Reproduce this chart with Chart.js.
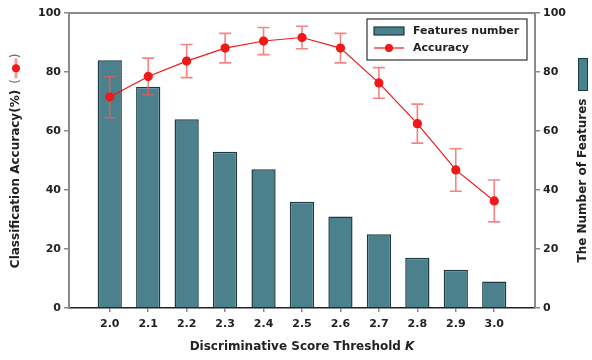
<!DOCTYPE html>
<html lang="en">
<head>
  <meta charset="UTF-8">
  <title>Accuracy vs Threshold</title>
  <style>
    html, body { margin: 0; padding: 0; background: #fff; }
    #wrap { width: 592px; height: 360px; }
  </style>
</head>
<body>
  <div id="wrap"><canvas id="grafico" width="592" height="360"></canvas></div>

  <script src="https://cdn.jsdelivr.net/npm/chart.js"></script>
  <script>
    // dados
    const thresholds = [2.0, 2.1, 2.2, 2.3, 2.4, 2.5, 2.6, 2.7, 2.8, 2.9, 3.0];
    const featuresNumber = [84, 75, 64, 53, 47, 36, 31, 25, 17, 13, 9];
    const accuracy = [71.5, 78.5, 83.7, 88.1, 90.5, 91.7, 88.1, 76.3, 62.5, 46.8, 36.3];
    const accuracyErr = [7, 6.2, 5.6, 5, 4.6, 3.8, 5, 5.2, 6.6, 7.2, 7.1];
    const yTicks = [0, 20, 40, 60, 80, 100];

    const corBarra = '#4b818d';
    const corBorda = '#1b3a42';
    const corLinha = '#f01818';
    const corErro = 'rgba(245, 90, 90, 0.75)';
    const fonte = '"DejaVu Sans", Arial, sans-serif';

    const pontos = (ys) => thresholds.map((x, i) => ({ x: x, y: ys[i] }));

    const errorBars = {
      id: 'errorBars',
      afterDatasetDraw(chart, args) {
        if (args.index !== 0) return;
        const ctx = chart.ctx;
        const xs = chart.scales.x, ys = chart.scales.y;
        ctx.save();
        ctx.strokeStyle = corErro;
        ctx.lineWidth = 1.6;
        thresholds.forEach((t, i) => {
          const px = xs.getPixelForValue(t);
          const top = ys.getPixelForValue(accuracy[i] + accuracyErr[i]);
          const bot = ys.getPixelForValue(accuracy[i] - accuracyErr[i]);
          ctx.beginPath();
          ctx.moveTo(px, top); ctx.lineTo(px, bot);
          ctx.moveTo(px - 6, top); ctx.lineTo(px + 6, top);
          ctx.moveTo(px - 6, bot); ctx.lineTo(px + 6, bot);
          ctx.stroke();
        });
        ctx.restore();
      }
    };

    const extras = {
      id: 'extras',
      afterDraw(chart) {
        const ctx = chart.ctx;
        const a = chart.chartArea;
        ctx.save();

        // moldura superior
        ctx.strokeStyle = '#8a8a8a';
        ctx.lineWidth = 2;
        ctx.beginPath();
        ctx.moveTo(a.left, a.top); ctx.lineTo(a.right, a.top);
        ctx.stroke();

        // legenda
        const lx = 367, ly = 19, lw = 160, lh = 41;
        ctx.fillStyle = '#fff';
        ctx.fillRect(lx, ly, lw, lh);
        ctx.strokeStyle = '#333';
        ctx.lineWidth = 1.2;
        ctx.strokeRect(lx, ly, lw, lh);
        ctx.fillStyle = corBarra;
        ctx.fillRect(lx + 7, ly + 8, 30, 8);
        ctx.strokeStyle = corBorda;
        ctx.strokeRect(lx + 7, ly + 8, 30, 8);
        ctx.strokeStyle = corLinha;
        ctx.lineWidth = 1.2;
        ctx.beginPath();
        ctx.moveTo(lx + 7, ly + 29); ctx.lineTo(lx + 37, ly + 29);
        ctx.stroke();
        ctx.fillStyle = corLinha;
        ctx.beginPath();
        ctx.arc(lx + 22, ly + 29, 4, 0, Math.PI * 2);
        ctx.fill();
        ctx.fillStyle = '#222';
        ctx.font = 'bold 11px ' + fonte;
        ctx.textBaseline = 'middle';
        ctx.textAlign = 'left';
        ctx.fillText(chart.data.datasets[0].label, lx + 46, ly + 12);
        ctx.fillText(chart.data.datasets[1].label, lx + 46, ly + 29);

        // título eixo esquerdo com símbolo
        const cy = (a.top + a.bottom) / 2;
        ctx.font = 'bold 12px ' + fonte;
        const t1 = 'Classification Accuracy(%)';
        const w1 = ctx.measureText(t1).width;
        const wp = ctx.measureText('(').width;
        const sym = 20;
        let total = w1 + 6 + wp + sym + wp;
        ctx.save();
        ctx.translate(16, cy);
        ctx.rotate(-Math.PI / 2);
        let x0 = -total / 2;
        ctx.fillStyle = '#222';
        ctx.fillText(t1, x0, 0);
        x0 += w1 + 6;
        ctx.fillStyle = '#666';
        ctx.font = '12px ' + fonte;
        ctx.fillText('(', x0, 0);
        x0 += wp;
        ctx.strokeStyle = 'rgba(245, 90, 90, 0.6)';
        ctx.lineWidth = 3;
        ctx.beginPath();
        ctx.moveTo(x0, 0); ctx.lineTo(x0 + sym, 0);
        ctx.stroke();
        ctx.fillStyle = corLinha;
        ctx.beginPath();
        ctx.arc(x0 + sym / 2, 0, 4, 0, Math.PI * 2);
        ctx.fill();
        x0 += sym;
        ctx.fillStyle = '#666';
        ctx.fillText(')', x0, 0);
        ctx.restore();

        // título eixo direito com símbolo
        ctx.font = 'bold 12px ' + fonte;
        const t2 = 'The Number of Features';
        const w2 = ctx.measureText(t2).width;
        const symR = 32;
        total = w2 + 8 + symR;
        ctx.save();
        ctx.translate(583, cy);
        ctx.rotate(-Math.PI / 2);
        x0 = -total / 2;
        ctx.fillStyle = '#222';
        ctx.textBaseline = 'middle';
        ctx.fillText(t2, x0, 0);
        x0 += w2 + 8;
        ctx.fillStyle = corBarra;
        ctx.fillRect(x0, -4.5, symR, 9);
        ctx.strokeStyle = corBorda;
        ctx.lineWidth = 1;
        ctx.strokeRect(x0, -4.5, symR, 9);
        ctx.restore();

        // título eixo x
        ctx.font = 'bold 12px ' + fonte;
        const t3 = 'Discriminative Score Threshold ';
        ctx.font = 'italic bold 12px ' + fonte;
        const wk = ctx.measureText('K').width;
        ctx.font = 'bold 12px ' + fonte;
        const w3 = ctx.measureText(t3).width;
        const cx = (a.left + a.right) / 2;
        let xs = cx - (w3 + wk) / 2;
        ctx.fillStyle = '#222';
        ctx.textAlign = 'left';
        ctx.fillText(t3, xs, 347);
        ctx.font = 'italic bold 12px ' + fonte;
        ctx.fillText('K', xs + w3, 347);

        ctx.restore();
      }
    };

    const eixoY = (pos, largura) => ({
      type: 'linear',
      position: pos,
      min: 0,
      max: 100,
      afterBuildTicks: (s) => { s.ticks = yTicks.map(v => ({ value: v })); },
      afterFit: (s) => { s.width = largura; },
      border: { display: true, color: '#8a8a8a', width: 2 },
      grid: { drawOnChartArea: false, drawTicks: true, tickLength: 5, color: '#8a8a8a', lineWidth: 1.5 },
      ticks: { color: '#222', font: { family: fonte, size: 11, weight: 'bold' }, padding: 3 }
    });

    new Chart(document.getElementById('grafico').getContext('2d'), {
      data: {
        datasets: [{
          type: 'bar',
          label: 'Features number',
          data: pontos(featuresNumber),
          yAxisID: 'y1',
          backgroundColor: corBarra,
          borderColor: corBorda,
          borderWidth: 1.5,
          barPercentage: 0.63,
          categoryPercentage: 1,
          order: 1
        }, {
          type: 'line',
          label: 'Accuracy',
          data: pontos(accuracy),
          yAxisID: 'y',
          borderColor: corLinha,
          borderWidth: 1.2,
          pointBackgroundColor: corLinha,
          pointBorderColor: corLinha,
          pointRadius: 4,
          tension: 0,
          order: 0
        }]
      },
      options: {
        responsive: false,
        animation: false,
        layout: { padding: { top: 13, left: 0, right: 0, bottom: 0 } },
        plugins: { legend: { display: false }, tooltip: { enabled: false } },
        scales: {
          x: {
            type: 'linear',
            min: 1.894,
            max: 3.106,
            offset: false,
            afterBuildTicks: (s) => { s.ticks = thresholds.map(v => ({ value: v })); },
            afterFit: (s) => { s.height = 52; },
            border: { display: true, color: '#222', width: 1.5 },
            grid: { offset: false, drawOnChartArea: false, drawTicks: true, tickLength: 4, color: '#8a8a8a', lineWidth: 1.5 },
            ticks: {
              color: '#222',
              font: { family: fonte, size: 11, weight: 'bold' },
              padding: 6,
              callback: (v) => Number(v).toFixed(1)
            }
          },
          y: eixoY('left', 69),
          y1: eixoY('right', 57)
        }
      },
      plugins: [errorBars, extras]
    });
  </script>
</body>
</html>
